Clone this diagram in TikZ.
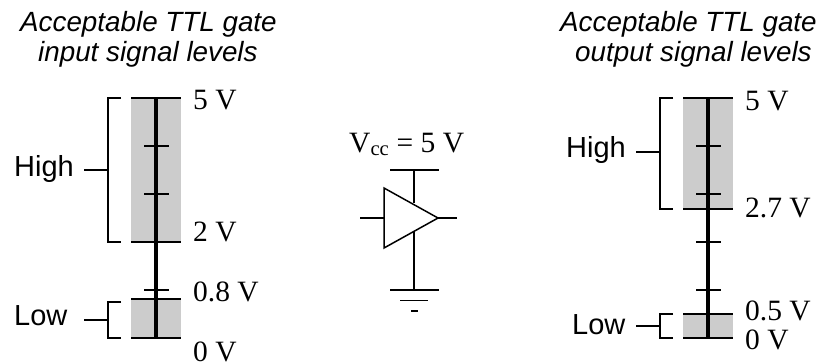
\documentclass[tikz,border=0pt]{standalone}
\usepackage{fontspec}
\setmainfont{Liberation Serif}
\setsansfont{Liberation Sans}
\usetikzlibrary{calc}
\tikzset{
  volt/.style={anchor=base west, inner sep=0pt, text depth=0pt, font=\rmfamily\fontsize{29.5}{29.5}\selectfont},
  word/.style={anchor=base west, inner sep=0pt, font=\sffamily\fontsize{29}{29}\selectfont},
  heading/.style={anchor=base west, inner sep=0pt, font=\sffamily\itshape\fontsize{27.8}{27.8}\selectfont},
  band/.style={fill=black!20, draw=none},
  axis/.style={line width=3.4pt},
  wire/.style={line width=1.5pt}}

\begin{document}
\begin{tikzpicture}[x=1pt, y=-1pt]
  \useasboundingbox (0,0) rectangle (839,364);
  \node[heading] (t1) at (20,31) {Acceptable TTL gate};
  \node[heading] (t2) at (38,61) {input signal levels};
  \node[heading] (t3) at (560,31) {Acceptable TTL gate};
  \node[heading] (t4) at (575,61) {output signal levels};

  % input levels
  \fill[band] (131,98) rectangle (181,242);
  \fill[band] (131,299) rectangle (181,338);
  \coordinate (itop) at (156,97);
  \coordinate (ibot) at (156,339);
  \foreach \y in {98,242,299,338}
    \draw[wire] (131,\y) -- (181,\y);
  \foreach \y in {146,194,290}
    \draw[wire] (144,\y) -- (169,\y);
  \draw[axis] (itop) -- (ibot);
  \draw[wire] (121,98) -| (108,242) -- (121,242);
  \draw[wire] (121,302) -| (108,338) -- (121,338);
  \draw[wire] (84,170) -- (108,170);
  \draw[wire] (84,320) -- (108,320);
  \node[word] (ihigh) at (14,176) {High};
  \node[word] (ilow) at (14,325) {Low};
  \node[volt] (i5) at (193,109) {5 V};
  \node[volt] (i2) at (193,241) {2 V};
  \node[volt] (i08) at (193,301) {0.8 V};
  \node[volt] (i0) at (193,361) {0 V};

  % gate
  \coordinate (gin) at (384,218);
  \coordinate (gup) at (384,188);
  \coordinate (gout) at (438,218);
  \coordinate (gdn) at (384,248);
  \coordinate (vcc) at (414,170);
  \coordinate (gnd) at (414,290);
  \draw[wire, line join=miter] (gup) -- (gout) -- (gdn) -- cycle;
  \draw[wire] (360,218) -- (gin);
  \draw[wire] (gout) -- (457,218);
  \draw[wire] (vcc) -- (414,203);
  \draw[wire] (414,232) -- (gnd);
  \draw[wire] (390,170) -- (439,170);
  \draw[wire] (390,290) -- (439,290);
  \draw[wire] (400,300.5) -- (428,300.5);
  \draw[wire] (411,311) -- (418,311);
  \node[volt] (vdd) at (349,152) {V\textsubscript{cc} = 5 V};

  % output levels
  \fill[band] (683,98) rectangle (733,209);
  \fill[band] (683,314) rectangle (733,338);
  \coordinate (otop) at (708,97);
  \coordinate (obot) at (708,339);
  \foreach \y in {98,209,314,338}
    \draw[wire] (683,\y) -- (733,\y);
  \foreach \y in {146,194,242,290}
    \draw[wire] (696,\y) -- (721,\y);
  \draw[axis] (otop) -- (obot);
  \draw[wire] (673,98) -| (660,209) -- (673,209);
  \draw[wire] (673,314) -| (660,338) -- (673,338);
  \draw[wire] (636,152) -- (660,152);
  \draw[wire] (636,326) -- (660,326);
  \node[word] (ohigh) at (566,157) {High};
  \node[word] (olow) at (572,334) {Low};
  \node[volt] (o5) at (745,110) {5 V};
  \node[volt] (o27) at (745,217) {2.7 V};
  \node[volt] (o05) at (745,320) {0.5 V};
  \node[volt] (o0) at (745,349) {0 V};
\end{tikzpicture}
\end{document}
